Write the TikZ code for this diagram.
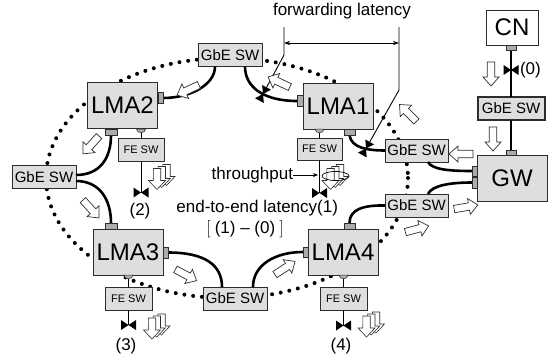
\documentclass[tikz,border=0pt]{standalone}
\usepackage{fontspec}
\setmainfont{Liberation Sans}
\usetikzlibrary{arrows.meta}
\definecolor{boxgray}{RGB}{222,222,222}
\definecolor{portgray}{RGB}{172,172,172}
\definecolor{edgec}{RGB}{45,45,45}
\tikzset{
  harrow/.pic={\draw[draw=edgec, fill=white, line width=0.7pt, line join=miter]
    (-12,-3.7) -- (3,-3.7) -- (3,-8) -- (12,0) -- (3,8) -- (3,3.7) -- (-12,3.7) -- cycle;},
  tarrow/.pic={\foreach \dx/\dy in {9.5/-4,4.75/-2,0/0}{
    \draw[draw=edgec, fill=white, line width=0.6pt, shift={(\dx,\dy)}]
    (-3.7,-10.5) -- (3.7,-10.5) -- (3.7,1.5) -- (8.5,1.5) -- (0,10.5) -- (-8.5,1.5) -- (-3.7,1.5) -- cycle;}},
  bowtie/.pic={\fill[black] (-7.5,-5) -- (0,0) -- (-7.5,5) -- cycle (7.5,-5) -- (0,0) -- (7.5,5) -- cycle;}
}
\begin{document}
\begin{tikzpicture}[x=1pt,y=-1pt,
  every node/.style={inner sep=0pt, outer sep=0pt},
  lma/.style={draw=edgec, fill=boxgray, line width=0.8pt, minimum width=70pt, minimum height=46pt, font=\fontsize{24}{26}\selectfont},
  gsw/.style={draw=edgec, fill=boxgray, line width=0.8pt, minimum width=64pt, minimum height=23pt, font=\fontsize{15}{17}\selectfont},
  fesw/.style={draw=edgec, fill=boxgray, line width=0.8pt, minimum width=46pt, minimum height=23pt, font=\fontsize{11}{13}\selectfont},
  port/.style={draw=edgec, fill=portgray, line width=0.5pt},
  link/.style={line width=2.6pt},
  thinline/.style={line width=1pt},
  lbl/.style={font=\fontsize{17}{20}\selectfont},
  ring/.style={line width=4pt, dash pattern=on 0pt off 8.8pt, line cap=round}
]
\useasboundingbox (0,0) rectangle (551,359);
\fill[white] (0,0) rectangle (551,359);

% dotted ring
\draw[ring] (227,178) ellipse [x radius=181, y radius=120];

% ports
\node[port, minimum width=5pt, minimum height=11pt] (p2r) at (160.5,98) {};
\node[port, minimum width=12pt, minimum height=6pt] (p2b) at (111,132.5) {};
\node[port, minimum width=6pt, minimum height=11pt] (p1l) at (300,101) {};
\node[port, minimum width=11pt, minimum height=6pt] (p1b) at (349.5,132) {};
\node[port, minimum width=12pt, minimum height=6pt] (p3t) at (111,226) {};
\node[port, minimum width=5pt, minimum height=11pt] (p3r) at (165.5,252.5) {};
\node[port, minimum width=11pt, minimum height=6pt] (p4t) at (349.5,226) {};
\node[port, minimum width=5pt, minimum height=10pt] (p4l) at (305.5,252) {};
\node[port, minimum width=10pt, minimum height=5pt] (pcn) at (511,48) {};
\node[port, minimum width=10pt, minimum height=5pt] (pgw) at (511,152.5) {};
\node[port, minimum width=5pt, minimum height=10pt] (pgw1) at (474.5,171) {};
\node[port, minimum width=5pt, minimum height=11pt] (pgw2) at (474.5,182.5) {};

% switches
\node[gsw] (swtop) at (230,55) {GbE SW};
\node[gsw] (swleft) at (44,177) {GbE SW};
\node[gsw] (swbot) at (235,298.5) {GbE SW};
\node[gsw, minimum width=63pt] (swru) at (416.5,150.5) {GbE SW};
\node[gsw, minimum width=63pt] (swrl) at (416.5,205.5) {GbE SW};
\node[gsw, line width=2pt, minimum width=67pt] (swgw) at (511,108.5) {GbE SW};

% thick links
\draw[link] ([xshift=-15pt]swtop.south) .. controls (215,85) and (190,98) .. (p2r.east);
\draw[link] ([xshift=15pt]swtop.south) .. controls (245,88) and (265,101) .. (p1l.west);
\draw[link] (p1b.south) .. controls (351,148) and (368,150.5) .. (swru.west);
\draw[link] ([xshift=11.5pt]swru.south) .. controls (432,170) and (452,171) .. (pgw1.west);
\draw[link] ([xshift=11.5pt]swrl.north) .. controls (432,185) and (452,182.5) .. (pgw2.west);
\draw[link] (swrl.west) .. controls (362,205) and (349.5,210) .. (p4t.north);
\draw[link] (p4l.west) .. controls (275,252) and (253,265) .. ([xshift=18pt]swbot.north);
\draw[link] (p3r.east) .. controls (205,252.5) and (222,265) .. ([xshift=-13pt]swbot.north);
\draw[link] ([yshift=-4pt]swleft.east) .. controls (100,181) and (111,200) .. (p3t.north);
\draw[link] ([yshift=2pt]swleft.east) .. controls (100,175) and (111,158) .. (p2b.south);
\draw[link] (pcn.south) -- (swgw.north);
\draw[link] (swgw.south) -- (pgw.north);

% main boxes
\node[lma] (lma2) at (122.5,105.5) {LMA2};
\node[lma] (lma1) at (338,106) {LMA1};
\node[lma] (lma3) at (128,252) {LMA3};
\node[lma] (lma4) at (343,252) {LMA4};
\node[lma, fill=white, minimum width=52pt, minimum height=35pt] (cn) at (512,27.5) {CN};
\node[lma] (gw) at (512,178) {GW};

% redraw ports over boxes
\foreach \p in {p2r,p2b,p1l,p1b,p3t,p3r,p4t,p4l,pcn,pgw,pgw1,pgw2}{
  \draw[port] (\p.north west) rectangle (\p.south east);}

% FE switches
\node[fesw] (fe2) at (141,150) {FE SW};
\node[fesw, minimum width=45pt, minimum height=22pt] (fe1) at (319.5,149) {FE SW};
\node[fesw, minimum width=47pt] (fe3) at (128.5,298.5) {FE SW};
\node[fesw, minimum width=47pt] (fe4) at (343.5,298.5) {FE SW};

% bumps and short lines
\coordinate (k2) at (141,133); \coordinate (k1) at (319.5,133);
\coordinate (k3) at (128.5,279); \coordinate (k4) at (343.5,279);
\draw[thinline] (k2) -- (fe2.north);
\draw[thinline] (k1) -- (fe1.north);
\draw[thinline] (k3) -- (fe3.north);
\draw[thinline] (k4) -- (fe4.north);
\draw[port] (136.5,129) .. controls (136.5,134) and (145.5,134) .. (145.5,129) -- cycle;
\draw[port] (315,129) .. controls (315,134) and (324,134) .. (324,129) -- cycle;
\draw[port] (124,275) .. controls (124,280) and (133,280) .. (133,275) -- cycle;
\draw[port] (339,275) .. controls (339,280) and (348,280) .. (348,275) -- cycle;

% measurement points
\coordinate (b0) at (511,70);
\coordinate (b1) at (319.5,193);
\coordinate (b2) at (141,192.5);
\coordinate (b3) at (128.5,325);
\coordinate (b4) at (343.5,325.5);
\draw[thinline] (fe1.south) -- (b1);
\draw[thinline] (fe2.south) -- (b2);
\draw[thinline] (fe3.south) -- (b3);
\draw[thinline] (fe4.south) -- (b4);
\foreach \b in {b0,b1,b2,b3,b4}{\pic at (\b) {bowtie};}

% forwarding latency
\coordinate (fa1) at (284,27); \coordinate (fa2) at (284,55); \coordinate (fl1) at (263,94);
\coordinate (fb1) at (399,27); \coordinate (fb2) at (399,90); \coordinate (fl2) at (366,148.5);
\coordinate (da) at (284,43); \coordinate (db) at (399,43);
\draw[line width=0.9pt] (fa1) -- (fa2) -- (fl1);
\draw[line width=0.9pt] (fb1) -- (fb2) -- (fl2);
\draw[line width=0.7pt, {Stealth[length=6pt,width=4pt]}-{Stealth[length=6pt,width=4pt]}] (da) -- (db);
\pic[rotate=61.7] at (fl1) {bowtie};
\pic[rotate=60.6] at (fl2) {bowtie};

% hollow flow arrows
\pic[rotate=205] at (188,90) {harrow};
\pic[rotate=228] at (91,145) {harrow};
\pic[rotate=312] at (91,209) {harrow};
\pic[rotate=332] at (186,275) {harrow};
\pic[rotate=33] at (285,268) {harrow};
\pic[rotate=15] at (417,229) {harrow};
\pic[rotate=10] at (466,207) {harrow};
\pic[rotate=180] at (461,154) {harrow};
\pic[rotate=270] at (491,74) {harrow};
\pic[rotate=270] at (493,139) {harrow};
\pic[rotate=135] at (408,113) {harrow};
\pic[rotate=155] at (279,82) {harrow};

% throughput triple arrows
\pic at (157,179) {tarrow};
\pic at (330.5,179) {tarrow};
\pic at (152,328.5) {tarrow};
\pic at (366.5,326.5) {tarrow};
\draw[line width=0.7pt] (335.5,176) ellipse [x radius=13.5, y radius=4.5];

% texts
\node[lbl] (fwd) at (342,11) {forwarding latency};
\node[lbl, anchor=east] (thr) at (293,175) {throughput};
\coordinate (thrend) at (318,175);
\draw[line width=0.7pt, -{Stealth[length=5pt,width=4pt]}] (thr.east) -- (thrend);
\node[lbl, anchor=east] (e2e) at (338,208.5) {end-to-end latency(1)};
\node[lbl] (e2ef) at (245,229.5) {$\left[\rule[-5pt]{0pt}{18pt}\right.$\,(1) – (0)\,$\left.\rule[-5pt]{0pt}{18pt}\right]$};
\node[lbl, anchor=west] (l0) at (520,70) {(0)};
\node[lbl] (l2) at (140,211) {(2)};
\node[lbl] (l3) at (126,346) {(3)};
\node[lbl] (l4) at (341,346) {(4)};
\end{tikzpicture}
\end{document}
